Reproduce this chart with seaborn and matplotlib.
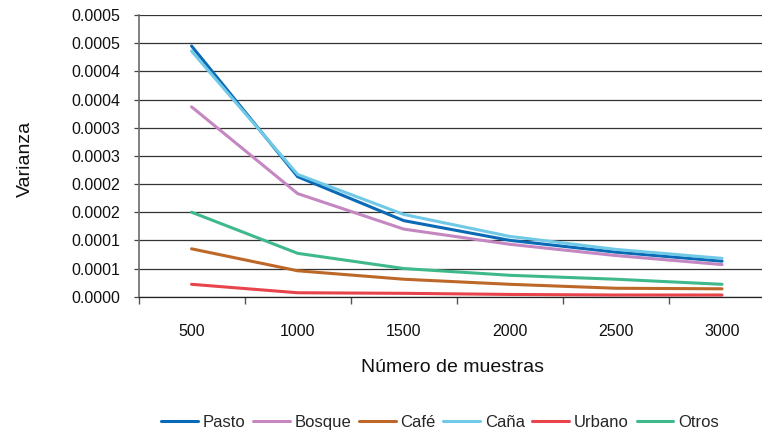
import matplotlib
matplotlib.use("Agg")
import matplotlib.pyplot as plt
import seaborn as sns
import pandas as pd
import numpy as np

# datos
muestras = ["500", "1000", "1500", "2000", "2500", "3000"]
pasto = [0.000445, 0.000213, 0.000135, 0.000100, 0.000079, 0.000063]
bosque = [0.000337, 0.000183, 0.000120, 0.000093, 0.000073, 0.000057]
cafe = [0.000085, 0.000046, 0.000031, 0.000022, 0.000015, 0.000014]
cana = [0.000436, 0.000217, 0.000146, 0.000107, 0.000084, 0.000068]
urbano = [0.000022, 0.000007, 0.000006, 0.000004, 0.000003, 0.000003]
otros = [0.000150, 0.000077, 0.000050, 0.000038, 0.000031, 0.000022]

usos = ["Pasto", "Bosque", "Café", "Caña", "Urbano", "Otros"]
colores = ["#0a6ab6", "#c487c1", "#bd6828", "#70c9e6", "#e9434b", "#3fb98b"]
ytick_vals = [0, 0.00005, 0.0001, 0.00015, 0.0002, 0.00025, 0.0003, 0.00035, 0.0004, 0.00045, 0.0005]
ytick_labels = ["0.0000", "0.0001", "0.0001", "0.0002", "0.0002", "0.0003",
                "0.0003", "0.0004", "0.0004", "0.0005", "0.0005"]

series = [pasto, bosque, cafe, cana, urbano, otros]
df = pd.concat(
    [pd.DataFrame({"muestras": muestras, "varianza": s, "uso": u}) for s, u in zip(series, usos)],
    ignore_index=True,
)

sns.set_theme(style="white")
plt.rcParams["font.family"] = ["Liberation Sans", "DejaVu Sans"]

fig = plt.figure(figsize=(7.62, 4.32), dpi=100)
ax = fig.add_axes([138.5 / 762, (432 - 296.7) / 432, 636.6 / 762, 281.7 / 432])

sns.lineplot(data=df, x="muestras", y="varianza", hue="uso", hue_order=usos,
             palette=colores, sort=False, linewidth=2.2, ax=ax)

ax.set_xlim(-0.5, 5.5)
ax.set_ylim(0, 0.0005)
ax.set_yticks(ytick_vals)
ax.set_yticklabels(ytick_labels)
ax.grid(axis="y", color="#333333", linewidth=0.9)
ax.set_axisbelow(True)

ax.set_xticks(range(len(muestras)))
ax.set_xticklabels(muestras)
ax.set_xticks(np.arange(-0.5, 6, 1), minor=True)
ax.tick_params(axis="x", which="major", length=0, pad=20, labelsize=11.5, colors="#111111")
ax.tick_params(axis="x", which="minor", length=5, width=1.0, color="#555555", bottom=True)
ax.tick_params(axis="y", length=3.6, width=0.9, color="#444444", pad=9.5, labelsize=11.5,
               labelcolor="#111111", left=True)

for side in ["top", "right"]:
    ax.spines[side].set_visible(False)
ax.spines["left"].set_color("#6b6b6b")
ax.spines["left"].set_linewidth(1.2)
ax.spines["bottom"].set_color("#222222")
ax.spines["bottom"].set_linewidth(0.9)

ax.set_xlabel("Número de muestras", fontsize=14, color="#111111")
ax.xaxis.label.set_va("center")
ax.xaxis.set_label_coords(0.494, -0.253)
ax.set_ylabel("Varianza", fontsize=14, color="#111111")
ax.yaxis.label.set_va("center")
ax.yaxis.set_label_coords(-0.178, 0.489)

handles, labels = ax.get_legend_handles_labels()
ax.get_legend().remove()
fig.legend(handles, labels, loc="center", bbox_to_anchor=(440 / 762, 1 - 422.7 / 432),
           ncol=6, frameon=False, fontsize=12, handlelength=2.2, handletextpad=0.3,
           columnspacing=0.45)

fig.savefig("out.png", dpi=100)
